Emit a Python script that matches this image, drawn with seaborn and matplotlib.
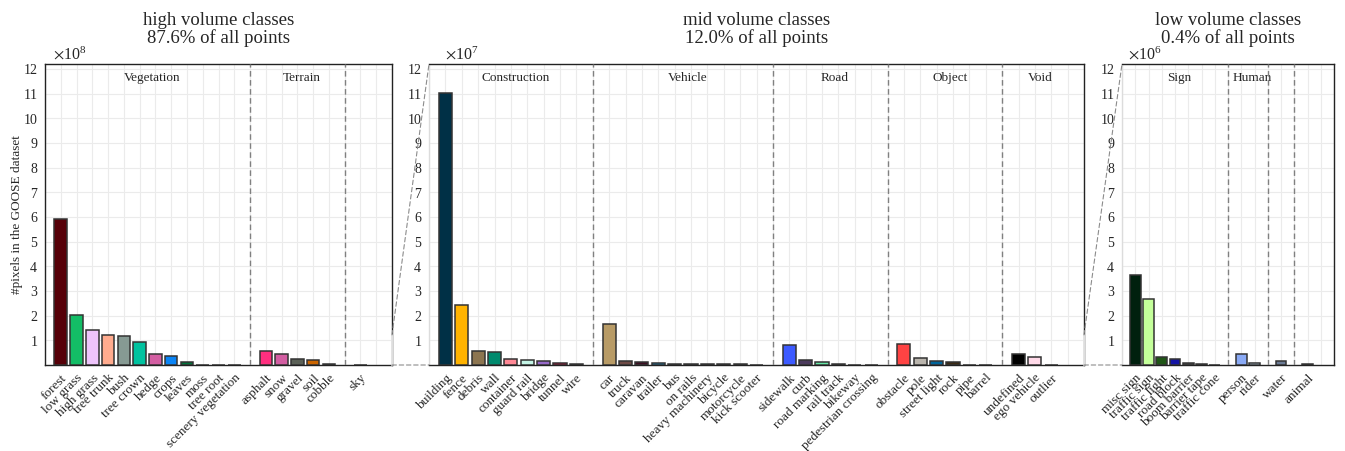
import matplotlib
matplotlib.use("Agg")
import matplotlib.pyplot as plt
import matplotlib.transforms as mtransforms
from matplotlib.lines import Line2D
from matplotlib.patches import ConnectionPatch
from matplotlib.ticker import ScalarFormatter, FixedLocator
import pandas as pd
import seaborn as sns

# ---------------- high volume classes ----------------
high_classes = ["forest", "low grass", "high grass", "tree trunk", "bush", "tree crown",
                "hedge", "crops", "leaves", "moss", "tree root", "scenery vegetation",
                "asphalt", "snow", "gravel", "soil", "cobble",
                "sky"]
high_values = [5.90e8, 2.04e8, 1.41e8, 1.20e8, 1.16e8, 0.92e8,
               0.43e8, 0.37e8, 0.13e8, 0.012e8, 0.008e8, 0.005e8,
               0.55e8, 0.43e8, 0.23e8, 0.19e8, 0.05e8,
               0.006e8]
high_colors = ["#560008", "#13bd66", "#eec4fb", "#ffab8e", "#869a93", "#00c29f",
               "#d35ea2", "#0a84f5", "#00733a", "#6a8a2a", "#5a3a1a", "#3c8a5a",
               "#ff2f7f", "#d35ea2", "#5b6157", "#cc6600", "#7a1f9c",
               "#87ceeb"]
high_group_sizes = [12, 5, 1]
high_group_labels = ["Vegetation", "Terrain", None]

# ---------------- mid volume classes ----------------
mid_classes = ["building", "fence", "debris", "wall", "container", "guard rail", "bridge",
               "tunnel", "wire",
               "car", "truck", "caravan", "trailer", "bus", "on rails", "heavy machinery",
               "bicycle", "motorcycle", "kick scooter",
               "sidewalk", "curb", "road marking", "rail track", "bikeway", "pedestrian crossing",
               "obstacle", "pole", "street light", "rock", "pipe", "barrel",
               "undefined", "ego vehicle", "outlier"]
mid_values = [11.03e7, 2.43e7, 0.56e7, 0.54e7, 0.24e7, 0.19e7, 0.15e7, 0.10e7, 0.04e7,
              1.66e7, 0.15e7, 0.11e7, 0.10e7, 0.06e7, 0.04e7, 0.04e7, 0.04e7, 0.03e7, 0.01e7,
              0.80e7, 0.19e7, 0.12e7, 0.03e7, 0.01e7, 0.005e7,
              0.87e7, 0.28e7, 0.15e7, 0.11e7, 0.01e7, 0.01e7,
              0.44e7, 0.31e7, 0.01e7]
mid_colors = ["#003046", "#ffb300", "#8c7550", "#008a6e", "#ff8895", "#c4f5e6", "#9669c8",
              "#cc0033", "#888888",
              "#b89b66", "#6e4a45", "#3c0f22", "#0a8ccd", "#555555", "#333333", "#222222",
              "#222222", "#333333", "#444444",
              "#3c5aff", "#4b3a5c", "#66e6a5", "#555555", "#777777", "#999999",
              "#ff4343", "#bab5ad", "#00649a", "#3b2a14", "#666666", "#777777",
              "#000000", "#ffd9e8", "#444444"]
mid_group_sizes = [9, 10, 6, 6, 3]
mid_group_labels = ["Construction", "Vehicle", "Road", "Object", "Void"]

# ---------------- low volume classes ----------------
low_classes = ["misc sign", "traffic sign", "traffic light", "road block", "boom barrier",
               "barrier tape", "traffic cone",
               "person", "rider",
               "water",
               "animal"]
low_values = [3.66e6, 2.66e6, 0.31e6, 0.24e6, 0.09e6, 0.03e6, 0.01e6,
              0.43e6, 0.07e6,
              0.18e6,
              0.04e6]
low_colors = ["#00200e", "#c4ff9a", "#1f5516", "#1414a5", "#4d4d4d", "#222222", "#555555",
              "#8aaaf5", "#c8e0f0",
              "#6b7b95",
              "#333333"]
low_group_sizes = [7, 2, 1, 1]
low_group_labels = ["Sign", "Human", None, None]

panel_titles = ["high volume classes\n87.6% of all points",
                "mid volume classes\n12.0% of all points",
                "low volume classes\n0.4% of all points"]
panel_exponents = [8, 7, 6]
y_tick_units = list(range(1, 13))
y_top_units = 12.2

sns.set_style("whitegrid")
plt.rcParams["font.family"] = ["Liberation Serif", "DejaVu Serif"]
plt.rcParams["mathtext.fontset"] = "stix"

W, H = 1345, 451
fig = plt.figure(figsize=(W / 100, H / 100), dpi=100)


def frac(x0, x1, y0=64, y1=365):
    return [x0 / W, (H - y1) / H, (x1 - x0) / W, (y1 - y0) / H]


ax_high = fig.add_axes(frac(45, 392))
ax_mid = fig.add_axes(frac(429, 1084))
ax_low = fig.add_axes(frac(1122, 1334))


def slot_layout(sizes):
    pos, seps, spans = [], [], []
    p = 0
    for s in sizes:
        spans.append((p, p + s - 1))
        pos.extend(range(p, p + s))
        p += s
        seps.append(p)
        p += 1
    return pos, seps[:-1], spans, p


def draw_panel(ax, classes, values, colors, sizes, labels, exponent, title, offset_x):
    pos, seps, spans, xmax = slot_layout(sizes)
    df = pd.DataFrame({"slot": pos, "pixels": values, "cls": classes})
    sns.barplot(data=df, x="slot", y="pixels", hue="cls",
                palette=dict(zip(classes, colors)), native_scale=True, dodge=False,
                legend=False, width=0.8, saturation=1, errorbar=None,
                edgecolor="#333333", linewidth=1.1, ax=ax, zorder=3)
    scale = 10.0 ** exponent
    ax.set_xlim(-1, xmax)
    ax.set_ylim(0, y_top_units * scale)

    ticks = list(range(-1, xmax + 1))
    names = dict(zip(pos, classes))
    ax.xaxis.set_major_locator(FixedLocator(ticks))
    ax.set_xticklabels([names.get(t, "") for t in ticks], rotation=45, ha="right",
                       rotation_mode="anchor", fontsize=9.5)
    ax.yaxis.set_major_locator(FixedLocator([u * scale for u in y_tick_units]))
    fmt = ScalarFormatter(useMathText=True)
    fmt.set_powerlimits((exponent, exponent))
    ax.yaxis.set_major_formatter(fmt)
    ax.yaxis.get_offset_text().set_fontsize(11.5)
    ax.yaxis.get_offset_text().set_x(offset_x)
    ax.tick_params(axis="both", which="major", length=3, width=0.8, color="#222222",
                   direction="out", pad=2)
    ax.tick_params(axis="y", labelsize=10)
    ax.set_xlabel("")
    ax.set_ylabel("")
    ax.grid(True, color="#ebebeb", linewidth=0.8)
    ax.set_axisbelow(True)
    for sp in ax.spines.values():
        sp.set_color("#222222")
        sp.set_linewidth(1.0)

    for s in seps:
        ax.axvline(s, color="#808080", linestyle=(0, (4, 2.5)), linewidth=1.0, zorder=4)

    blend = mtransforms.blended_transform_factory(ax.transData, ax.transAxes)
    for (a, b), lab in zip(spans, labels):
        if lab:
            ax.text((a + b) / 2 + 0.3, 0.972, lab, transform=blend, ha="center",
                    va="top", fontsize=9.5)
    ax.set_title(title, fontsize=13.5, y=1.0, pad=15, linespacing=1.0)
    return xmax


xr_high = draw_panel(ax_high, high_classes, high_values, high_colors, high_group_sizes,
                     high_group_labels, panel_exponents[0], panel_titles[0], 0.023)
xr_mid = draw_panel(ax_mid, mid_classes, mid_values, mid_colors, mid_group_sizes,
                    mid_group_labels, panel_exponents[1], panel_titles[1], 0.024)
xr_low = draw_panel(ax_low, low_classes, low_values, low_colors, low_group_sizes,
                    low_group_labels, panel_exponents[2], panel_titles[2], 0.028)

ax_high.set_ylabel("#pixels in the GOOSE dataset", fontsize=9.5, labelpad=0)

# zoom guides: the full range of the next panel, marked on the previous one
for big, small, xr in [(ax_high, ax_mid, xr_high), (ax_mid, ax_low, xr_mid)]:
    top_small = small.get_ylim()[1]
    big.add_artist(Line2D([xr, xr], [0, top_small], transform=big.transData,
                          color="#e4e4e4", linewidth=1.4, clip_on=False, zorder=5))
    small.spines["left"].set_color("#dcdcdc")
    for y in (top_small, 0):
        con = ConnectionPatch(xyA=(xr, y), coordsA=big.transData,
                              xyB=(-1, y), coordsB=small.transData,
                              color="#8c8c8c", linestyle=(0, (4, 2.5)), linewidth=0.8)
        fig.add_artist(con)

fig.savefig("out.png", dpi=100)
